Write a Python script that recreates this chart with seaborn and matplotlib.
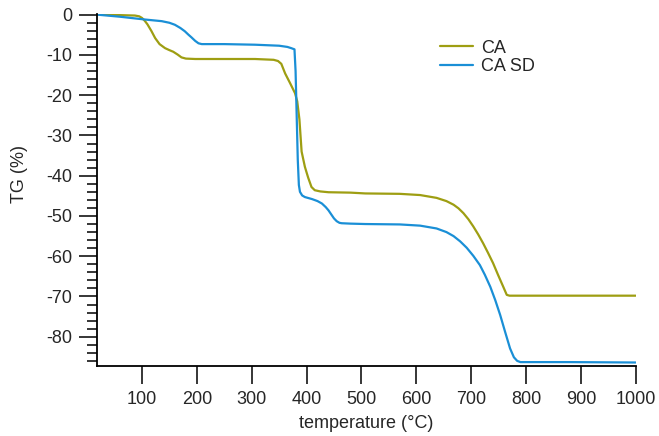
import matplotlib
matplotlib.use("Agg")
import pandas as pd
import matplotlib.pyplot as plt
import seaborn as sns
from matplotlib.ticker import MultipleLocator

# TG curves (temperature in °C, mass change in %)
ca_temp = [20, 60, 87, 95, 100, 105, 110, 117, 124, 132, 142, 150, 157, 165,
           172, 180, 197, 250, 306, 340, 348, 354, 361, 370, 379, 383, 387,
           391, 397, 403, 409, 415, 425, 440, 480, 507, 570, 607, 637, 655,
           668, 677, 686, 695, 704, 713, 722, 731, 740, 749, 758, 765, 770,
           800, 900, 1000]
ca_tg = [0.0, -0.1, -0.2, -0.4, -0.8, -1.5, -2.4, -4.0, -5.8, -7.3, -8.3,
         -8.8, -9.2, -9.9, -10.6, -10.9, -11.0, -11.0, -11.0, -11.2, -11.5,
         -12.2, -14.6, -17.0, -19.5, -21.5, -26.0, -34.0, -37.8, -40.5, -42.8,
         -43.6, -43.9, -44.1, -44.2, -44.4, -44.5, -44.8, -45.5, -46.3, -47.2,
         -48.1, -49.3, -50.8, -52.6, -54.6, -56.8, -59.2, -61.7, -64.6, -67.4,
         -69.6, -69.8, -69.8, -69.8, -69.8]

sd_temp = [20, 60, 106, 136, 150, 160, 170, 178, 185, 190, 197, 203, 209,
           250, 306, 350, 365, 372, 378, 380, 382, 384, 386, 388, 392, 397,
           410, 420, 428, 435, 440, 445, 450, 455, 460, 464, 480, 507, 570,
           607, 637, 655, 668, 680, 692, 704, 716, 725, 735, 744, 753, 762,
           771, 778, 784, 790, 880, 1000]
sd_tg = [0.0, -0.5, -1.2, -1.6, -2.0, -2.5, -3.3, -4.1, -5.0, -5.6, -6.5,
         -7.1, -7.3, -7.3, -7.45, -7.7, -8.0, -8.3, -8.6, -14.0, -25.0,
         -36.0, -42.3, -44.0, -44.9, -45.3, -45.8, -46.3, -46.9, -47.8,
         -48.6, -49.6, -50.6, -51.3, -51.7, -51.8, -51.9, -52.0, -52.1,
         -52.4, -53.1, -54.0, -55.0, -56.3, -57.9, -59.9, -62.2, -64.6,
         -67.6, -70.9, -74.6, -78.8, -82.9, -85.1, -86.0, -86.3, -86.3,
         -86.4]

series = {"CA": (ca_temp, ca_tg), "CA SD": (sd_temp, sd_tg)}
colors = {"CA": "#9e9e12", "CA SD": "#1a8fd6"}

sns.set_style("white")
plt.rcParams["font.family"] = ["Liberation Sans", "DejaVu Sans"]
plt.rcParams["font.size"] = 13
plt.rcParams["axes.unicode_minus"] = False

fig = plt.figure(figsize=(6.59, 4.36), dpi=100)
ax = fig.add_axes([0.1472, 0.1612, 0.8174, 0.8078])

for name, (t, tg) in series.items():
    df = pd.DataFrame({"temperature": t, "TG": tg})
    sns.lineplot(data=df, x="temperature", y="TG", ax=ax, label=name,
                 color=colors[name], sort=False, estimator=None, linewidth=1.6)

ax.set_xlim(18, 1000)
ax.set_ylim(-87.2, 0.3)
ax.set_xticks([100, 200, 300, 400, 500, 600, 700, 800, 900, 1000])
ax.yaxis.set_major_locator(MultipleLocator(10))
ax.yaxis.set_minor_locator(MultipleLocator(2))

for side in ["top", "right"]:
    ax.spines[side].set_visible(False)
for side in ["left", "bottom"]:
    ax.spines[side].set_linewidth(1.3)
    ax.spines[side].set_color("black")

ax.tick_params(axis="x", which="major", direction="out", length=13, width=1.3,
               pad=5, labelsize=13, bottom=True)
ax.tick_params(axis="y", which="major", direction="out", length=13, width=1.3,
               pad=5, labelsize=13, left=True)
ax.tick_params(axis="y", which="minor", direction="out", length=7, width=1.3,
               left=True)

ax.set_xlabel("temperature (°C)", fontsize=13)
ax.set_ylabel("TG (%)", fontsize=13)
ax.xaxis.set_label_coords(0.5, -0.14)
ax.yaxis.set_label_coords(-0.128, 0.544)

ax.legend(loc="upper left", bbox_to_anchor=(0.637, 0.926), frameon=False,
          handlelength=1.8, handletextpad=0.45, labelspacing=0.1, fontsize=13,
          borderaxespad=0, borderpad=0)

fig.savefig("out.png", dpi=100)
